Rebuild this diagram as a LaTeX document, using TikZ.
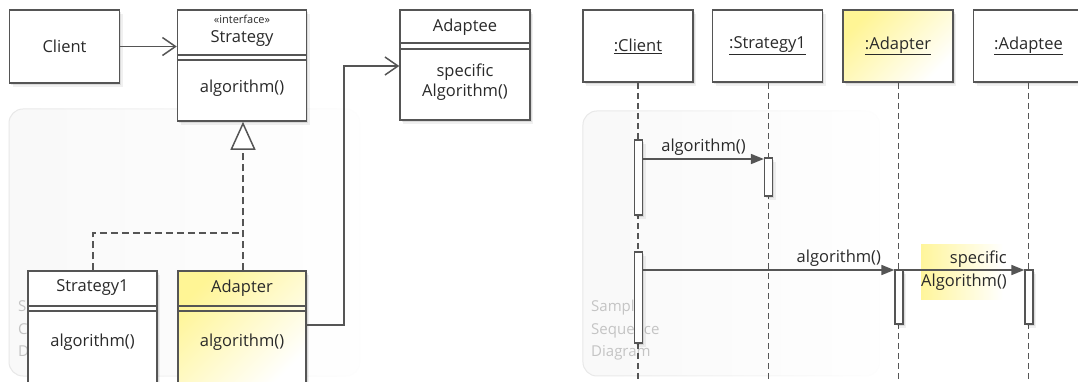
\documentclass[tikz,border=0pt]{standalone}
\usepackage{fontspec}
\setmainfont{Open Sans}
\usetikzlibrary{arrows.meta,shadows,fadings}

\definecolor{edge}{HTML}{555555}
\definecolor{ink}{HTML}{2A2A2A}
\definecolor{hilite}{HTML}{FFF27A}
\definecolor{faint}{HTML}{C4C4C4}

\tikzset{
  softshadow/.style={
    general shadow={shadow xshift=3pt, shadow yshift=-3.5pt, fill=black, opacity=0.06},
    general shadow={shadow xshift=1.5pt, shadow yshift=-2pt, fill=black, opacity=0.09}},
  umlbox/.style={draw=edge, line width=1.5pt, fill=white, rectangle, inner sep=0pt, softshadow},
  yellowbox/.style={umlbox, top color=hilite!80, middle color=hilite!8, bottom color=white, shading angle=45},
  label/.style={font=\fontsize{16.5}{19}\selectfont, text=ink, inner sep=0pt},
  stereo/.style={font=\fontsize{11}{12}\selectfont, text=ink, inner sep=0pt},
  compline/.style={draw=edge, line width=1.1pt},
  assoc/.style={draw=edge, line width=1.5pt, -{Straight Barb[length=13pt,width=18pt,line width=1.5pt]}},
  realize/.style={draw=edge, line width=1.5pt, dash pattern=on 7pt off 4pt},
  lifeline/.style={draw=edge, line width=1.5pt, dash pattern=on 6pt off 4pt},
  actbar/.style={draw=edge, line width=1.3pt, fill=white, rectangle, inner sep=0pt, minimum width=8pt, softshadow},
  message/.style={draw=edge, line width=1.6pt, -{Triangle[length=13pt,width=10pt]}},
  backdrop/.style={rounded corners=14pt, fill=gray!5, draw=gray!18, line width=1pt, path fading=east},
  ghost/.style={font=\fontsize{15}{22.5}\selectfont, text=faint, inner sep=0pt, align=left, anchor=north west}
}

\begin{document}
\begin{tikzpicture}[x=1pt,y=-1pt]
\useasboundingbox (0,0) rectangle (1078,381);
\clip (0,0) rectangle (1078,381);
\fill[white] (0,0) rectangle (1078,381);

% ---------- faint panel backdrops ----------
\path[backdrop] (9,109) rectangle (360,376);
\path[backdrop] (583,111) rectangle (880,376);
\node[ghost] (classcaption) at (18,300) {Sample\\Class\\Diagram};
\node[ghost] (seqcaption) at (591,300) {Sample\\Sequence\\Diagram};

% ================= class diagram =================
\node[umlbox, minimum width=110pt, minimum height=73pt, label] (client) at (64.5,46.5) {Client};

\node[umlbox, minimum width=129pt, minimum height=111pt] (strategy) at (242,65.5) {};
\draw[compline] (strategy.west |- 0,55) -- (strategy.east |- 0,55);
\draw[compline] (strategy.west |- 0,60) -- (strategy.east |- 0,60);
\node[stereo] (strategystereo) at (242,19.5) {«interface»};
\node[label] (strategyname) at (242,39) {Strategy};
\node[label] (strategyop) at (242,88) {algorithm()};

\node[umlbox, minimum width=130pt, minimum height=110pt] (adaptee) at (465,65) {};
\draw[compline] (adaptee.west |- 0,43) -- (adaptee.east |- 0,43);
\draw[compline] (adaptee.west |- 0,49) -- (adaptee.east |- 0,49);
\node[label] (adapteename) at (465,27.5) {Adaptee};
\node[label, align=center, font=\fontsize{16.5}{20}\selectfont] (adapteeop) at (465,82) {specific\\Algorithm()};

\node[umlbox, minimum width=129pt, minimum height=116pt] (strategy1) at (92.5,329) {};
\draw[compline] (strategy1.west |- 0,306) -- (strategy1.east |- 0,306);
\draw[compline] (strategy1.west |- 0,311) -- (strategy1.east |- 0,311);
\node[label] (strategy1name) at (92.5,288) {Strategy1};
\node[label] (strategy1op) at (92.5,342) {algorithm()};

\node[yellowbox, minimum width=128pt, minimum height=116pt] (adapter) at (242,329) {};
\draw[compline] (adapter.west |- 0,306) -- (adapter.east |- 0,306);
\draw[compline] (adapter.west |- 0,311) -- (adapter.east |- 0,311);
\node[label] (adaptername) at (242,288) {Adapter};
\node[label] (adapterop) at (242,342) {algorithm()};

% connectors
\draw[assoc] (client.east) -- (client.east -| strategy.west);
\coordinate (merge) at (243,233);
\draw[realize] (strategy1.north -| 93,0) |- (merge);
\draw[realize, -{Triangle[open, fill=white, length=28pt, width=25pt, line width=1.5pt]}]
  (adapter.north -| 243,0) -- (strategy.south -| 243,0);
\coordinate (bend) at (344,325);
\draw[assoc] (adapter.east |- bend) -- (bend) |- (adaptee.west |- 0,66);

% ================= sequence diagram =================
\node[umlbox, minimum width=110pt, minimum height=72pt, label] (sclient) at (638,46) {\underline{:Client}};
\node[umlbox, minimum width=110pt, minimum height=72pt, label] (sstrat) at (767.5,46) {\underline{:Strategy1}};
\node[yellowbox, minimum width=110pt, minimum height=72pt, label] (sadapter) at (898,46) {\underline{:Adapter}};
\node[umlbox, minimum width=110pt, minimum height=72pt, label] (sadaptee) at (1028.5,46) {\underline{:Adaptee}};

\coordinate (endclient) at (638,390);
\coordinate (endstrat) at (768.5,390);
\coordinate (endadapter) at (898.5,390);
\coordinate (endadaptee) at (1028.5,390);
\draw[lifeline] (sclient.south -| endclient) -- (endclient);
\draw[lifeline] (sstrat.south -| endstrat) -- (endstrat);
\draw[lifeline] (sadapter.south -| endadapter) -- (endadapter);
\draw[lifeline] (sadaptee.south -| endadaptee) -- (endadaptee);

% activation bars
\node[actbar, minimum height=75pt] (act1) at (638.5,177.5) {};
\node[actbar, minimum height=38pt] (act2) at (768.5,177) {};
\node[actbar, minimum height=91pt] (act3) at (638.5,297.5) {};
\node[actbar, minimum height=54pt] (act4) at (899,297) {};
\node[actbar, minimum height=54pt] (act5) at (1029,297) {};

% highlighted label of the last call
\node[inner sep=0pt, minimum width=82pt, minimum height=55pt, anchor=north west,
      left color=hilite!75, right color=white] (hl) at (921,244) {};
\node[label, align=right, anchor=east, font=\fontsize{16.5}{23}\selectfont] (msg3label) at (1007,270.5) {specific\\Algorithm()};

% messages
\draw[message] (act1.east |- 0,159) -- (act2.west |- 0,159)
  node[label, pos=0.5, anchor=south, yshift=3pt] (msg1label) {algorithm()};
\draw[message] (act3.east |- 0,270) -- (act4.west |- 0,270)
  node[label, pos=0.95, anchor=south east, yshift=3pt] (msg2label) {algorithm()};
\draw[message] (act4.east |- 0,270) -- (act5.west |- 0,270);

\end{tikzpicture}
\end{document}
